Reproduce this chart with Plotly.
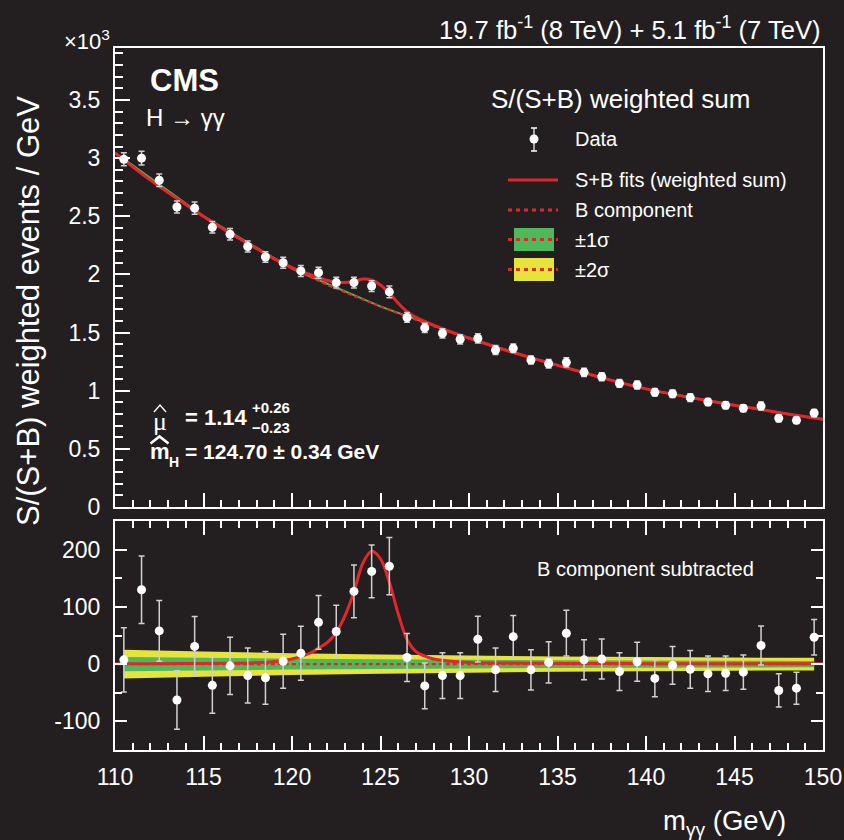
import plotly.graph_objects as go

# ---------------- data ----------------
mass = [110.5 + i for i in range(40)]
weighted_sum = [2.99, 3.00, 2.81, 2.58, 2.57, 2.405, 2.345, 2.24, 2.15, 2.10,
                2.03, 2.015, 1.93, 1.93, 1.90, 1.85, 1.63, 1.54, 1.493, 1.442,
                1.45, 1.35, 1.365, 1.264, 1.232, 1.244, 1.158, 1.12, 1.063, 1.049,
                0.986, 0.974, 0.940, 0.903, 0.874, 0.849, 0.868, 0.763, 0.745, 0.808]  # x10^3
subtracted = [7.5, 130, 58, -62.6, 31, -37, -3, -20, -24, 5,
              19, 73, 57, 127, 162, 171, 11.6, -38, -20, -20,
              43.5, -10, 48, -10, 3, 54, 7.5, 9, -13, 4,
              -25, -2, -9, -17, -16, -14, 32.5, -46, -42, 47]
errors = [56, 59, 53, 51, 52, 49, 50, 48, 46, 47,
          47, 47, 46, 46, 46, 50, 42, 40, 40, 40,
          40, 38, 37, 35, 36, 40, 35, 35, 33, 34,
          32, 33, 33, 31, 30, 30, 34, 29, 28, 31]

fit_x = [110, 112, 114, 116, 118, 119, 120, 121, 121.5, 122, 122.5, 123, 123.5,
         124, 124.5, 125, 125.5, 126, 126.5, 127, 127.5, 128, 129, 130, 132, 134,
         136, 138, 140, 142, 144, 146, 148, 150]
bkg = [3.045, 2.81, 2.60, 2.40, 2.22, 2.13, 2.05, 1.98, 1.945, 1.91, 1.878, 1.846,
       1.815, 1.785, 1.755, 1.725, 1.695, 1.665, 1.637, 1.61, 1.582, 1.555, 1.50,
       1.45, 1.35, 1.26, 1.175, 1.09, 1.015, 0.955, 0.90, 0.85, 0.80, 0.754]  # x10^3
sig = [0.5, 0.7, 1, 1.5, 2.5, 4, 9, 19, 28, 38, 55, 85, 126, 176, 197, 184, 143,
       88, 43, 22, 14, 9, 5, 3, 2, 1.5, 1, 1, 0.8, 0.7, 0.6, 0.5, 0.5, 0.5]  # events

band_x = [110.5, 115, 120, 125, 130, 135, 140, 145, 149.5]
band_b = [2.99, 2.50, 2.05, 1.725, 1.45, 1.217, 1.015, 0.875, 0.765]  # x10^3
band_1s = [12.5, 11, 9.5, 8.5, 7.5, 6.8, 6.3, 5.8, 5.5]
band_2s = [25, 22, 19, 17, 15, 13.5, 12.5, 11.5, 11]

# ---------------- style ----------------
BG = "#231F20"
RED = "#E4262B"
GREEN = "#4FB85A"
YELLOW = "#E6E43A"
FONT = "Liberation Sans"
W, H = 844, 840


def px(x):
    return x / W


def py(y):
    return 1 - y / H


fig = go.Figure()


def band_poly(xs, centre, half, scale):
    up = [c + h / scale for c, h in zip(centre, half)]
    lo = [c - h / scale for c, h in zip(centre, half)]
    return xs + xs[::-1], up + lo[::-1]


# upper panel: narrow 1 sigma band under the B component
bx, by = band_poly(band_x, band_b, band_1s, 1000.0)
fig.add_trace(go.Scatter(x=bx, y=by, fill="toself", fillcolor=GREEN, mode="none",
                         xaxis="x", yaxis="y", hoverinfo="skip"))
fig.add_trace(go.Scatter(x=fit_x, y=bkg, mode="lines", line=dict(color=RED, width=2.2, dash="4px,3px", shape="spline"),
                         xaxis="x", yaxis="y"))
fig.add_trace(go.Scatter(x=fit_x, y=[b + s / 1000.0 for b, s in zip(bkg, sig)], mode="lines",
                         line=dict(color=RED, width=3, shape="spline"), xaxis="x", yaxis="y"))
fig.add_trace(go.Scatter(x=mass, y=weighted_sum, mode="markers",
                         marker=dict(color="white", size=9),
                         error_y=dict(type="data", array=[e / 1000.0 for e in errors], color="#d0d0d0",
                                      thickness=1.5, width=3),
                         xaxis="x", yaxis="y"))

# lower panel
zero = [0 for _ in band_x]
for half, col in ((band_2s, YELLOW), (band_1s, GREEN)):
    bx, by = band_poly(band_x, zero, half, 1.0)
    fig.add_trace(go.Scatter(x=bx, y=by, fill="toself", fillcolor=col, mode="none",
                             xaxis="x2", yaxis="y2", hoverinfo="skip"))
fig.add_trace(go.Scatter(x=band_x, y=zero, mode="lines", line=dict(color=RED, width=2.2, dash="4px,3px"),
                         xaxis="x2", yaxis="y2"))
fig.add_trace(go.Scatter(x=fit_x, y=sig, mode="lines", line=dict(color=RED, width=3, shape="spline"),
                         xaxis="x2", yaxis="y2"))
fig.add_trace(go.Scatter(x=mass, y=subtracted, mode="markers",
                         marker=dict(color="white", size=9),
                         error_y=dict(type="data", array=errors, color="#d0d0d0", thickness=1.5, width=3),
                         xaxis="x2", yaxis="y2"))

xdom = [px(115), px(823)]
tickfont = dict(family=FONT, size=23, color="white")
common_x = dict(range=[110, 150], domain=xdom, showline=True, linecolor="white", linewidth=2,
                ticks="inside", ticklen=14, tickwidth=1.5, tickcolor="white", dtick=5, tick0=110,
                minor=dict(dtick=1, ticklen=7, tickwidth=1.5, tickcolor="white", ticks="inside"),
                showgrid=False, zeroline=False, tickfont=tickfont, automargin=False)

fig.update_layout(
    width=W, height=H, autosize=False, margin=dict(l=0, r=0, t=0, b=0, pad=0),
    paper_bgcolor=BG, plot_bgcolor=BG, showlegend=False,
    xaxis=dict(common_x, anchor="y", mirror=True, showticklabels=False),
    yaxis=dict(range=[0, 3.947], domain=[py(507), py(48)], anchor="x", showline=True, mirror=True,
               linecolor="white", linewidth=2, ticks="inside", ticklen=15, tickwidth=1.5, tickcolor="white",
               tickvals=[0, 0.5, 1, 1.5, 2, 2.5, 3, 3.5],
               ticktext=["0", "0.5", "1", "1.5", "2", "2.5", "3", "3.5"],
               minor=dict(dtick=0.1, ticklen=8, tickwidth=1.5, tickcolor="white", ticks="inside"),
               showgrid=False, zeroline=False, tickfont=tickfont, ticklabelstandoff=8, automargin=False),
    xaxis2=dict(common_x, anchor="y2", mirror="ticks", ticklabelstandoff=5),
    yaxis2=dict(range=[-150, 250], domain=[py(750), py(521)], anchor="x2", showline=True, mirror="ticks",
                linecolor="white", linewidth=2, ticks="inside", ticklen=12, tickwidth=1.5, tickcolor="white",
                tickvals=[-100, 0, 100, 200], ticktext=["-100", "0", "100", "200"],
                minor=dict(dtick=50, ticklen=7, tickwidth=1.5, tickcolor="white", ticks="inside"),
                showgrid=False, zeroline=False, tickfont=tickfont, ticklabelstandoff=8, automargin=False),
)


def txt(x, y, s, size, xanchor="left", bold=False, angle=0, family=FONT, yanchor="middle"):
    if bold:
        s = "<b>" + s + "</b>"
    fig.add_annotation(x=px(x), y=py(y), xref="paper", yref="paper", text=s, showarrow=False,
                       xanchor=xanchor, yanchor=yanchor, textangle=angle,
                       font=dict(family=family, size=size, color="white"))


txt(823, 28, "19.7 fb<sup>-1</sup> (8 TeV) + 5.1 fb<sup>-1</sup> (7 TeV)", 25.6, xanchor="right")
txt(112, 40, "\u00d710<sup>3</sup>", 22, xanchor="right")
txt(148, 81, "CMS", 31, bold=True)
txt(144, 118, "H \u2192 \u03b3\u03b3", 24)
txt(28, 311, "S/(S+B) weighted events / GeV", 31, xanchor="center", angle=-90)
txt(788, 822, "m<sub>\u03b3\u03b3</sub> (GeV)", 27.5, xanchor="right")
txt(489, 99, "S/(S+B) weighted sum", 26)
txt(573, 139, "Data", 20)
txt(573, 180, "S+B fits (weighted sum)", 20)
txt(573, 210, "B component", 20)
txt(573, 240, "\u00b11\u03c3", 20)
txt(573, 270, "\u00b12\u03c3", 20)
txt(535, 569, "B component subtracted", 20)
# mu-hat
txt(160, 421, "\u03bc", 26, xanchor="center", family="Liberation Serif")
txt(183, 417, "= 1.14", 22, bold=True)
txt(250, 407, "+0.26", 15, bold=True)
txt(250, 427, "\u22120.23", 15, bold=True)
# m-hat
txt(148, 451, "m", 22, bold=True)
txt(167, 462, "H", 14, bold=True)
txt(183, 451, "= 124.70 \u00b1 0.34 GeV", 21, bold=True)

# legend symbols and hat accents
shapes = []


def path(points):
    return "M " + " L ".join("%.5f,%.5f" % (px(a), py(b)) for a, b in points)


shapes.append(dict(type="path", path=path([(154, 412), (160, 405), (166, 412)]), xref="paper", yref="paper",
                   line=dict(color="white", width=1.3)))
shapes.append(dict(type="path", path=path([(150.5, 443.5), (159.5, 436.5), (168.5, 443.5)]), xref="paper",
                   yref="paper", line=dict(color="white", width=2.6)))
shapes.append(dict(type="line", x0=px(534), x1=px(534), y0=py(128), y1=py(151),
                   xref="paper", yref="paper", line=dict(color="#d0d0d0", width=1.5)))
for yy in (128, 151):
    shapes.append(dict(type="line", x0=px(531), x1=px(537), y0=py(yy), y1=py(yy),
                       xref="paper", yref="paper", line=dict(color="white", width=1.5)))
shapes.append(dict(type="circle", x0=px(529.5), x1=px(538.5), y0=py(134.5), y1=py(143.5),
                   xref="paper", yref="paper", fillcolor="white", line=dict(color="white", width=0)))
shapes.append(dict(type="line", x0=px(508), x1=px(558), y0=py(180), y1=py(180),
                   xref="paper", yref="paper", line=dict(color=RED, width=3)))
shapes.append(dict(type="rect", x0=px(514), x1=px(554), y0=py(251), y1=py(228),
                   xref="paper", yref="paper", fillcolor=GREEN, line=dict(width=0)))
shapes.append(dict(type="rect", x0=px(514), x1=px(554), y0=py(281), y1=py(258),
                   xref="paper", yref="paper", fillcolor=YELLOW, line=dict(width=0)))
for yy in (210, 239.5, 269.5):
    shapes.append(dict(type="line", x0=px(508), x1=px(558), y0=py(yy), y1=py(yy),
                       xref="paper", yref="paper", line=dict(color=RED, width=3, dash="4px,4px")))
fig.update_layout(shapes=shapes)

fig.write_html("out.html", config={"displayModeBar": False},
               post_script="document.body.style.margin='0';document.body.style.background='%s';" % BG)
